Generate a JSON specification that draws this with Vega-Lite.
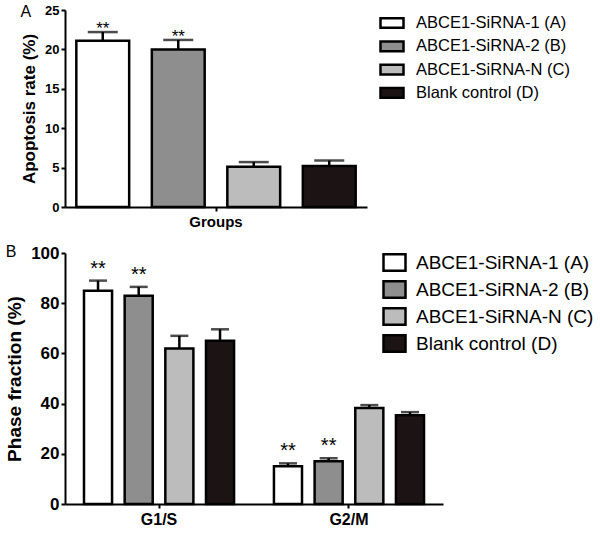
{
  "$schema": "https://vega.github.io/schema/vega-lite/v6.json",
  "background": "white",
  "padding": {"left": 5, "top": 4, "right": 5, "bottom": 3},
  "config": {
    "font": "Liberation Sans",
    "view": {"stroke": null},
    "axis": {
      "domainColor": "black", "domainWidth": 2, "tickColor": "black", "tickWidth": 2,
      "labelColor": "black", "titleColor": "black", "grid": false,
      "labelFont": "Liberation Sans", "titleFont": "Liberation Sans", "labelFontWeight": "bold", "titleFontWeight": "bold"
    },
    "legend": {
      "labelFont": "Liberation Sans", "labelColor": "black", "labelLimit": 400,
      "symbolStrokeColor": "black", "symbolStrokeWidth": 2.5, "symbolOpacity": 1
    },
    "title": {"font": "Liberation Sans", "color": "black"}
  },
  "spacing": 15,
  "resolve": {"scale": {"fill": "independent", "xOffset": "independent", "x": "independent", "y": "independent"}, "legend": {"fill": "independent"}},
  "vconcat": [
    {
      "title": {"text": "A", "anchor": "start", "frame": "bounds", "fontSize": 16, "fontWeight": "normal", "offset": -16},
      "width": 302,
      "height": 197,
      "data": {
        "values": [
          {"cat": "Groups", "group": "ABCE1-SiRNA-1 (A)", "value": 21.1, "upper": 22.2, "sig": "**"},
          {"cat": "Groups", "group": "ABCE1-SiRNA-2 (B)", "value": 20.0, "upper": 21.2, "sig": "**"},
          {"cat": "Groups", "group": "ABCE1-SiRNA-N (C)", "value": 5.1, "upper": 5.7, "sig": ""},
          {"cat": "Groups", "group": "Blank control (D)", "value": 5.2, "upper": 5.9, "sig": ""}
        ]
      },
      "encoding": {
        "x": {"field": "cat", "type": "nominal", "scale": {"paddingInner": 0, "paddingOuter": 0},
              "axis": {"labelAngle": 0, "title": null, "labelFontSize": 15, "tickSize": 4, "labelPadding": 3}},
        "xOffset": {"field": "group", "type": "nominal", "sort": null, "scale": {"paddingInner": 0.3, "paddingOuter": 0.15}}
      },
      "layer": [
        {
          "mark": {"type": "bar", "stroke": "black", "strokeWidth": 2.5},
          "encoding": {
            "y": {"field": "value", "type": "quantitative", "scale": {"domain": [0, 25], "nice": false},
                  "axis": {"values": [0, 5, 10, 15, 20, 25], "labelOverlap": false, "title": "Apoptosis rate (%)", "labelFontSize": 13, "titleFontSize": 17, "tickSize": 4, "labelPadding": 2, "titlePadding": 6}},
            "fill": {"field": "group", "type": "nominal", "sort": null,
                     "scale": {"domain": ["ABCE1-SiRNA-1 (A)", "ABCE1-SiRNA-2 (B)", "ABCE1-SiRNA-N (C)", "Blank control (D)"], "range": ["#ffffff", "#8e8e8e", "#bcbcbc", "#1c1414"]},
                     "legend": {"title": null, "orient": "right", "offset": 12, "labelFontSize": 16.5, "symbolType": "M-1,-0.42H1V0.42H-1Z", "symbolSize": 529, "labelOffset": 11, "rowPadding": 0.3}}
          }
        },
        {
          "mark": {"type": "rule", "color": "black", "strokeWidth": 2.5},
          "encoding": {"y": {"field": "value", "type": "quantitative", "axis": {"values": [0, 5, 10, 15, 20, 25], "labelOverlap": false, "title": "Apoptosis rate (%)", "labelFontSize": 13, "titleFontSize": 17, "tickSize": 4, "labelPadding": 2, "titlePadding": 6}}, "y2": {"field": "upper"}}
        },
        {
          "mark": {"type": "tick", "color": "black", "thickness": 2.5, "size": 30},
          "encoding": {"y": {"field": "upper", "type": "quantitative", "axis": {"values": [0, 5, 10, 15, 20, 25], "labelOverlap": false, "title": "Apoptosis rate (%)", "labelFontSize": 13, "titleFontSize": 17, "tickSize": 4, "labelPadding": 2, "titlePadding": 6}}}
        },
        {
          "mark": {"type": "text", "baseline": "alphabetic", "fontSize": 17, "dy": 2, "color": "black"},
          "encoding": {"y": {"field": "upper", "type": "quantitative", "axis": {"values": [0, 5, 10, 15, 20, 25], "labelOverlap": false, "title": "Apoptosis rate (%)", "labelFontSize": 13, "titleFontSize": 17, "tickSize": 4, "labelPadding": 2, "titlePadding": 6}}, "text": {"field": "sig"}}
        }
      ]
    },
    {
      "title": {"text": "B", "anchor": "start", "frame": "bounds", "fontSize": 16, "fontWeight": "normal", "offset": -16},
      "width": 378,
      "height": 251,
      "data": {
        "values": [
          {"phase": "G1/S", "group": "ABCE1-SiRNA-1 (A)", "value": 85, "upper": 89, "sig": "**"},
          {"phase": "G1/S", "group": "ABCE1-SiRNA-2 (B)", "value": 83, "upper": 86.5, "sig": "**"},
          {"phase": "G1/S", "group": "ABCE1-SiRNA-N (C)", "value": 62, "upper": 67, "sig": ""},
          {"phase": "G1/S", "group": "Blank control (D)", "value": 65, "upper": 69.6, "sig": ""},
          {"phase": "G2/M", "group": "ABCE1-SiRNA-1 (A)", "value": 15, "upper": 16.2, "sig": "**"},
          {"phase": "G2/M", "group": "ABCE1-SiRNA-2 (B)", "value": 17, "upper": 18.2, "sig": "**"},
          {"phase": "G2/M", "group": "ABCE1-SiRNA-N (C)", "value": 38.2, "upper": 39.4, "sig": ""},
          {"phase": "G2/M", "group": "Blank control (D)", "value": 35.4, "upper": 36.6, "sig": ""}
        ]
      },
      "encoding": {
        "x": {"field": "phase", "type": "nominal", "scale": {"paddingInner": 0.21, "paddingOuter": 0.1},
              "axis": {"labelAngle": 0, "title": null, "labelFontSize": 16, "tickSize": 4, "labelPadding": 3}},
        "xOffset": {"field": "group", "type": "nominal", "sort": null, "scale": {"paddingInner": 0.31, "paddingOuter": 0}}
      },
      "layer": [
        {
          "mark": {"type": "bar", "stroke": "black", "strokeWidth": 2.5},
          "encoding": {
            "y": {"field": "value", "type": "quantitative", "scale": {"domain": [0, 100]},
                  "axis": {"values": [0, 20, 40, 60, 80, 100], "title": "Phase fraction (%)", "labelFontSize": 17, "titleFontSize": 19, "tickSize": 4, "labelPadding": 2, "titlePadding": 6}},
            "fill": {"field": "group", "type": "nominal", "sort": null,
                     "scale": {"domain": ["ABCE1-SiRNA-1 (A)", "ABCE1-SiRNA-2 (B)", "ABCE1-SiRNA-N (C)", "Blank control (D)"], "range": ["#ffffff", "#8e8e8e", "#bcbcbc", "#1c1414"]},
                     "legend": {"title": null, "orient": "none", "legendX": 317, "legendY": -3, "labelFontSize": 19, "symbolType": "M-1,-0.75H1V0.75H-1Z", "symbolSize": 484, "labelOffset": 9, "rowPadding": 0}}
          }
        },
        {
          "mark": {"type": "rule", "color": "black", "strokeWidth": 2.5},
          "encoding": {"y": {"field": "value", "type": "quantitative"}, "y2": {"field": "upper"}}
        },
        {
          "mark": {"type": "tick", "color": "black", "thickness": 2.5, "size": 18},
          "encoding": {"y": {"field": "upper", "type": "quantitative"}}
        },
        {
          "mark": {"type": "text", "baseline": "alphabetic", "fontSize": 20, "dy": -6, "color": "black"},
          "encoding": {"y": {"field": "upper", "type": "quantitative"}, "text": {"field": "sig"}}
        }
      ]
    }
  ]
}
